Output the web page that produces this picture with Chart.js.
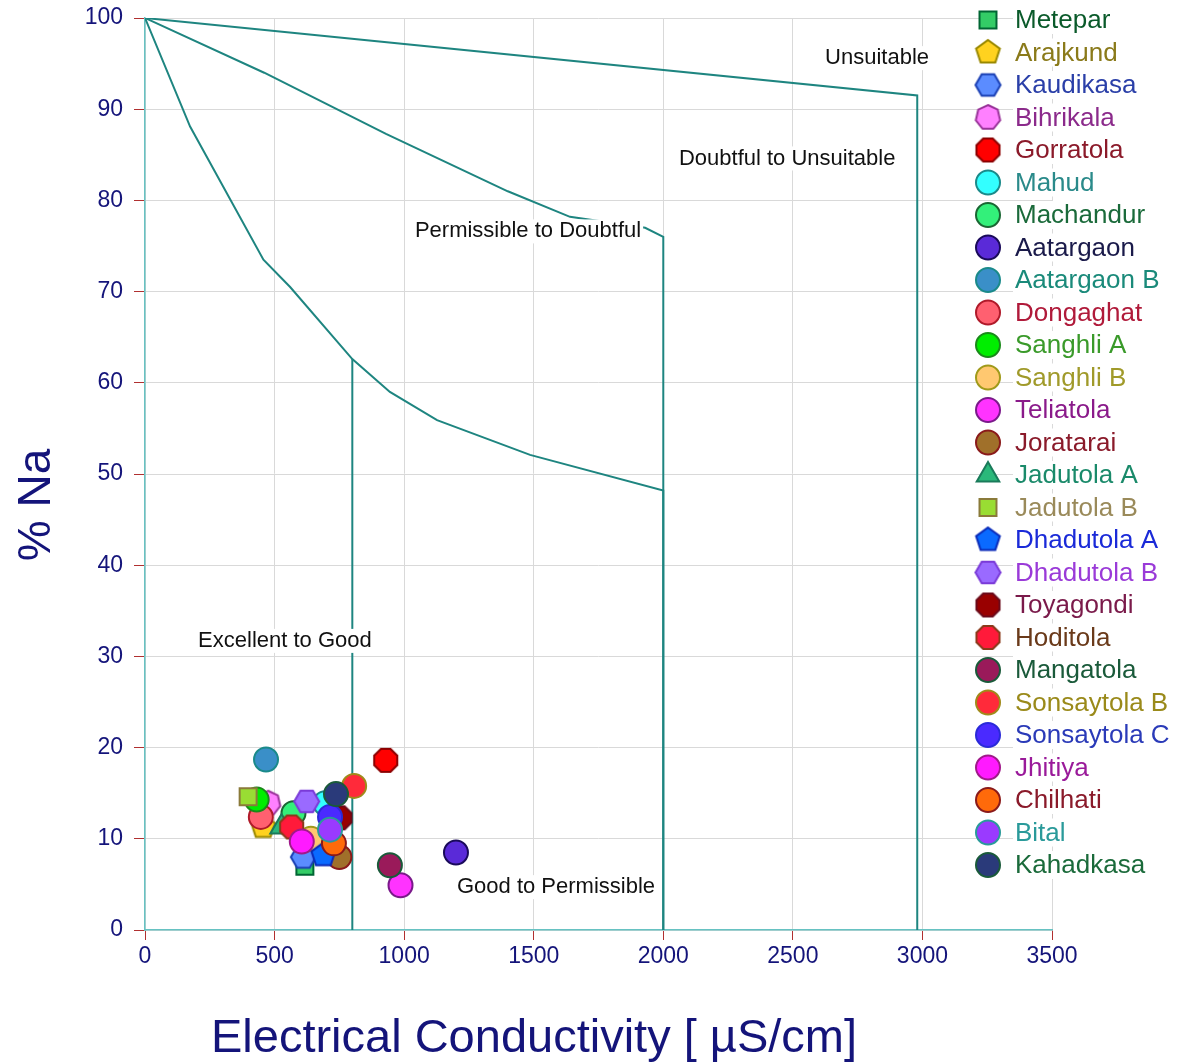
<!DOCTYPE html>
<html>
<head>
<meta charset="utf-8">
<script src="https://cdn.jsdelivr.net/npm/chart.js@4.4.0/dist/chart.umd.min.js"></script>
<style>
    body { margin: 0; background: #fff; }
</style>
</head>
<body>
<canvas id="wilcox" width="1184" height="1063"></canvas>
<script>
const FONT = 'Arial, "Liberation Sans", sans-serif';
const NAVY = '#14147a';

// Sitios de muestreo
const sites = ['Metepar', 'Arajkund', 'Kaudikasa', 'Bihrikala', 'Gorratola', 'Mahud', 'Machandur',
    'Aatargaon', 'Aatargaon B', 'Dongaghat', 'Sanghli A', 'Sanghli B', 'Teliatola', 'Joratarai',
    'Jadutola A', 'Jadutola B', 'Dhadutola A', 'Dhadutola B', 'Toyagondi', 'Hoditola', 'Mangatola',
    'Sonsaytola B', 'Sonsaytola C', 'Jhitiya', 'Chilhati', 'Bital', 'Kahadkasa'];
const ecValues = [617, 456, 611, 475, 929, 695, 573, 1200, 467, 447, 431, 640, 986, 750,
    527, 398, 688, 624, 752, 566, 945, 807, 714, 605, 729, 714, 737];
const naValues = [7.0, 11.3, 8.0, 13.9, 18.6, 13.9, 12.8, 8.5, 18.7, 12.4, 14.3, 10.0, 4.9, 8.0,
    11.3, 14.6, 8.2, 14.1, 12.3, 11.3, 7.1, 15.8, 12.4, 9.7, 9.5, 11.0, 14.9];
const shapes = ['rect', 'pentagon', 'hexagon', 'heptagon', 'octagon', 'circle', 'circle',
    'circle', 'circle', 'circle', 'circle', 'circle', 'circle', 'circle',
    'triangle', 'rect', 'pentagon', 'hexagon', 'octagon', 'octagon', 'circle',
    'circle', 'circle', 'circle', 'circle', 'circle', 'circle'];
const fillColors = ['#33cc66', '#ffd21f', '#5b8cff', '#ff80ff', '#ff0000', '#33ffff', '#33f07a',
    '#5a2ad8', '#3a8fc8', '#ff6070', '#00ee00', '#ffc870', '#ff33ff', '#a0702a',
    '#2ab87a', '#99dd33', '#0a6aff', '#9a6aff', '#990000', '#ff1a3a', '#9a1a5a',
    '#ff2a3a', '#4a2aff', '#ff1aff', '#ff6a0a', '#9a3aff', '#2a3a7a'];
const borderColors = ['#006633', '#998800', '#1a3fb3', '#993399', '#8b0000', '#1a8a8a', '#1a6633',
    '#1a0a5a', '#1a8a8a', '#b01a2a', '#1a8a1a', '#a09a1a', '#7a1a8a', '#8a1a1a',
    '#1a7a5a', '#8a7a3a', '#0a2ab8', '#7a3ad8', '#6a0a1a', '#8a3a1a', '#1a5a3a',
    '#a08a1a', '#2a2ad8', '#a01a8a', '#8a1a1a', '#2a9a9a', '#1a5a3a'];
const textColors = ['#0a5a2a', '#8a7a1a', '#2a3fa8', '#8b2a8b', '#8b1a2a', '#2a8a8a', '#1a6a3a',
    '#1a1a4a', '#1a8a7a', '#b01a3a', '#3a9a2a', '#a09a2a', '#8a1a8a', '#8a1a2a',
    '#1a8a6a', '#9a8a5a', '#1a2ad8', '#9a3ad8', '#7a1a4a', '#6a3a1a', '#1a5a3a',
    '#9a8a1a', '#2a3ab8', '#9a1a9a', '#8a1a2a', '#2a9a9a', '#1a6a3a'];

// Lineas de clasificacion (diagrama de Wilcox)
const unsuitableX = [0, 2980, 2980];
const unsuitableY = [100, 91.5, 0];
const doubtfulX = [0, 460, 930, 1400, 1640, 1930, 2000, 2000];
const doubtfulY = [100, 94, 87.3, 81, 78.2, 77, 76, 0];
const permissibleX = [0, 174, 457, 560, 800, 945, 1127, 1486, 2000, 2000];
const permissibleY = [100, 88.1, 73.5, 70.5, 62.6, 59, 55.9, 52.1, 48.2, 0];
const goodX = [800, 800];
const goodY = [0, 62.6];

// Etiquetas de zonas
const zoneLabels = ['Unsuitable', 'Doubtful to Unsuitable', 'Permissible to Doubtful', 'Excellent to Good', 'Good to Permissible'];
const zoneLabelX = [2825, 2478, 1478, 540, 1586];
const zoneLabelY = [95.6, 84.6, 76.6, 31.7, 4.7];

// Ticks
const xTicks = [0, 500, 1000, 1500, 2000, 2500, 3000, 3500];
const yTicks = [0, 10, 20, 30, 40, 50, 60, 70, 80, 90, 100];

function makePolygon(sides, fill, stroke, r, rot) {
    const size = Math.ceil(2 * r + 4);
    const c = document.createElement('canvas');
    c.width = c.height = size;
    const ctx = c.getContext('2d');
    ctx.beginPath();
    for (let i = 0; i < sides; i++) {
        const a = rot + i * 2 * Math.PI / sides;
        const px = size / 2 + r * Math.cos(a);
        const py = size / 2 + r * Math.sin(a);
        if (i === 0) ctx.moveTo(px, py); else ctx.lineTo(px, py);
    }
    ctx.closePath();
    ctx.fillStyle = fill;
    ctx.fill();
    ctx.lineWidth = 2;
    ctx.strokeStyle = stroke;
    ctx.stroke();
    return c;
}

function pointStyleFor(i) {
    const s = shapes[i];
    if (s === 'pentagon') return makePolygon(5, fillColors[i], borderColors[i], 12.5, -Math.PI / 2);
    if (s === 'hexagon') return makePolygon(6, fillColors[i], borderColors[i], 12.5, 0);
    if (s === 'heptagon') return makePolygon(7, fillColors[i], borderColors[i], 12.5, -Math.PI / 2);
    if (s === 'octagon') return makePolygon(8, fillColors[i], borderColors[i], 12.5, Math.PI / 8);
    return s;
}

function radiusFor(i) {
    if (shapes[i] === 'rect') return 12;
    if (shapes[i] === 'triangle') return 13;
    return 12;
}

const N = sites.length;
const siteDatasets = sites.map((name, i) => ({
    label: name,
    data: [{ x: ecValues[i], y: naValues[i] }],
    pointStyle: pointStyleFor(i),
    pointRadius: radiusFor(i),
    pointBackgroundColor: fillColors[i],
    pointBorderColor: borderColors[i],
    pointBorderWidth: 2,
    order: N - i
}));

function boundary(xs, ys) {
    return {
        label: '_line',
        data: xs.map((x, k) => ({ x: x, y: ys[k] })),
        showLine: true,
        borderColor: '#1e8580',
        borderWidth: 2,
        pointRadius: 0,
        tension: 0,
        order: 1000
    };
}

const lineDatasets = [
    boundary(unsuitableX, unsuitableY),
    boundary(doubtfulX, doubtfulY),
    boundary(permissibleX, permissibleY),
    boundary(goodX, goodY)
];

// Etiquetas de zonas con fondo blanco
const zoneLabelPlugin = {
    id: 'zoneLabels',
    afterDatasetsDraw(chart) {
        const ctx = chart.ctx;
        const xs = chart.scales.x, ys = chart.scales.y;
        ctx.save();
        ctx.font = '22px ' + FONT;
        ctx.textAlign = 'center';
        ctx.textBaseline = 'middle';
        zoneLabels.forEach((t, k) => {
            const px = xs.getPixelForValue(zoneLabelX[k]);
            const py = ys.getPixelForValue(zoneLabelY[k]);
            const w = ctx.measureText(t).width;
            ctx.fillStyle = '#fff';
            ctx.fillRect(px - w / 2 - 2, py - 12, w + 4, 24);
            ctx.fillStyle = '#111';
            ctx.fillText(t, px, py);
        });
        ctx.restore();
    }
};

// Titulos de ejes y leyenda
const overlayPlugin = {
    id: 'overlay',
    afterDraw(chart) {
        const ctx = chart.ctx;
        ctx.save();
        ctx.fillStyle = NAVY;
        ctx.font = '47px ' + FONT;
        ctx.textAlign = 'center';
        ctx.textBaseline = 'alphabetic';
        ctx.fillText('Electrical Conductivity [ µS/cm]', 534, 1052);

        ctx.save();
        ctx.translate(50, 505);
        ctx.rotate(-Math.PI / 2);
        ctx.font = '46px ' + FONT;
        ctx.fillText('% Na', 0, 0);
        ctx.restore();

        // Leyenda
        ctx.font = '26px ' + FONT;
        ctx.textAlign = 'left';
        ctx.textBaseline = 'middle';
        sites.forEach((name, i) => {
            const y = 20 + i * 32.5;
            const ds = chart.data.datasets[i];
            ctx.fillStyle = fillColors[i];
            ctx.strokeStyle = borderColors[i];
            ctx.lineWidth = 2;
            Chart.helpers.drawPoint(ctx, {
                pointStyle: ds.pointStyle,
                radius: ds.pointRadius,
                rotation: 0,
                borderWidth: 2
            }, 988, y);
            const w = ctx.measureText(name).width;
            ctx.fillStyle = '#fff';
            ctx.fillRect(1013, y - 14, w + 4, 28);
            ctx.fillStyle = textColors[i];
            ctx.fillText(name, 1015, y + 1);
        });
        ctx.restore();
    }
};

new Chart(document.getElementById('wilcox'), {
    type: 'scatter',
    data: { datasets: siteDatasets.concat(lineDatasets) },
    options: {
        responsive: false,
        animation: false,
        layout: { padding: { top: 18, right: 132, left: 0, bottom: 0 } },
        plugins: {
            legend: { display: false },
            tooltip: { enabled: false }
        },
        scales: {
            x: {
                type: 'linear',
                min: 0,
                max: 3500,
                afterFit: scale => {
                    scale.height = 133;
                    scale.paddingLeft = 0;
                    scale.paddingRight = 0;
                },
                afterBuildTicks: scale => { scale.ticks = xTicks.map(v => ({ value: v })); },
                grid: { color: '#d9d9d9', tickColor: '#b03030', tickLength: 10, lineWidth: 1 },
                border: { color: '#66c2c2', width: 1.5 },
                ticks: {
                    color: NAVY, font: { family: FONT, size: 23 }, padding: 3, maxRotation: 0,
                    callback: v => String(v)
                }
            },
            y: {
                type: 'linear',
                min: 0,
                max: 100,
                afterFit: scale => {
                    scale.width = 145;
                    scale.paddingTop = 0;
                    scale.paddingBottom = 0;
                },
                afterBuildTicks: scale => { scale.ticks = yTicks.map(v => ({ value: v })); },
                grid: { color: '#d9d9d9', tickColor: '#b03030', tickLength: 11, lineWidth: 1 },
                border: { color: '#66c2c2', width: 1.5 },
                ticks: {
                    color: NAVY, font: { family: FONT, size: 23 }, padding: 11,
                    callback: v => String(v)
                }
            }
        }
    },
    plugins: [zoneLabelPlugin, overlayPlugin]
});
</script>
</body>
</html>
